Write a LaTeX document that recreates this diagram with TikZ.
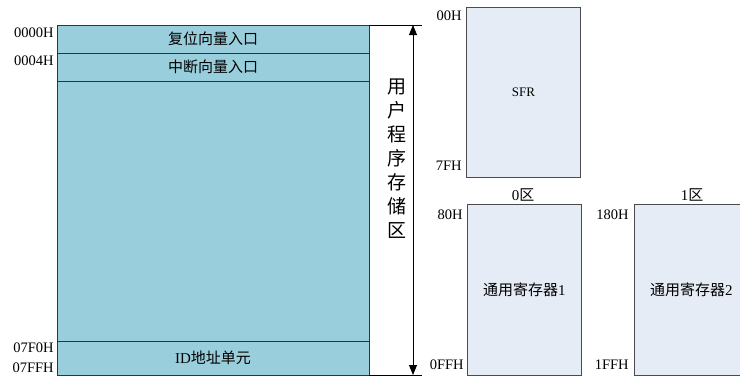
\documentclass[tikz,border=0pt]{standalone}
\usepackage{fontspec}
\setmainfont{Liberation Serif}
\newfontfamily\cjk{Noto Sans CJK SC}
\usetikzlibrary{arrows.meta}
\definecolor{progblue}{RGB}{153,207,220}
\definecolor{regblue}{RGB}{230,236,246}

\begin{document}
\begin{tikzpicture}[x = 1pt, y = -1pt, line width = 0.8pt,
                        prog/.style = {draw = black!80, fill = progblue, minimum width = 312pt, inner sep = 0pt, outer sep = 0pt, anchor = north west},
                        reg/.style = {draw = black!70, fill = regblue, minimum width = 114pt, inner sep = 0pt, anchor = north west},
                        addr/.style = {font = \fontsize{14.5}{14.5}\selectfont, inner sep = 0pt, anchor = east},
                        zh/.style = {font = \cjk\fontsize{15}{15}\selectfont},
                        >={Triangle[length = 10pt, width = 8pt]}]
      \useasboundingbox (0, 0) rectangle (740, 378);
      \clip (0, 0) rectangle (740, 378);
      % program memory
      \node [prog, zh, minimum height = 28pt] (p1) at (57, 25) {复位向量入口};
      \node [prog, zh, minimum height = 28pt] (p2) at (p1.south west) {中断向量入口};
      \node [prog, minimum height = 260pt] (p3) at (p2.south west) {};
      \node [prog, zh, minimum height = 34pt] (p4) at (p3.south west) {{\rmfamily ID}地址单元};
      \node [addr] (l1) at (54, 33) {0000H};
      \node [addr] (l2) at (54, 61) {0004H};
      \node [addr] (l3) at (54, 348) {07F0H};
      \node [addr] (l4) at (54, 368) {07FFH};
      \coordinate (eT) at (422, 25);
      \coordinate (eB) at (422, 375);
      \draw (p1.north east) -- (eT);
      \draw (p4.south east) -- (eB);
      \coordinate (aT) at (413, 25);
      \coordinate (aB) at (413, 375);
      \draw [<->] (aT) -- (aB);
      \node [font = \cjk\fontsize{19}{24}\selectfont, align = center, inner sep = 0pt] (vt) at (397, 159) {用\\户\\程\\序\\存\\储\\区};
      % data memory
      \node [reg, minimum height = 170pt] (r1) at (466, 7) {\fontsize{13}{13}\selectfont SFR};
      \node [addr] (l5) at (462, 16) {00H};
      \node [addr] (l6) at (462, 166) {7FH};
      \node [reg, zh, minimum height = 171pt] (r2) at (467, 204) {通用寄存器{\rmfamily 1}};
      \node [zh] (z0) at (523, 195) {{\rmfamily 0}区};
      \node [addr] (l7) at (463, 215) {80H};
      \node [addr] (l8) at (464, 365) {0FFH};
      \node [reg, zh, minimum height = 171pt] (r3) at (634, 204) {通用寄存器{\rmfamily 2}};
      \node [zh] (z1) at (692, 195) {{\rmfamily 1}区};
      \node [addr] (l9) at (629, 215) {180H};
      \node [addr] (l10) at (629, 365) {1FFH};
    \end{tikzpicture}
\end{document}
